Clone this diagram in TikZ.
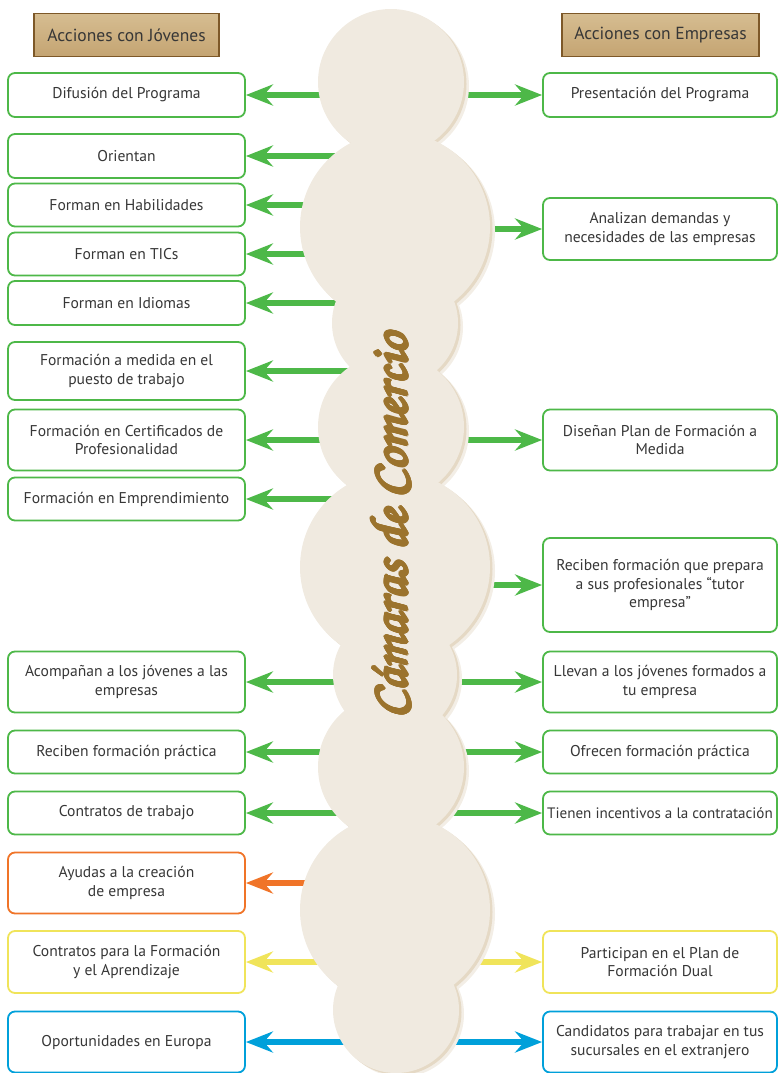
\documentclass[tikz,border=0pt]{standalone}
\usepackage[T1]{fontenc}
\usepackage{fontspec}
\setmainfont{PT Sans}
\usepackage[copies]{contour}
\contourlength{1.2pt}
\usetikzlibrary{arrows.meta}

\definecolor{verde}{RGB}{77,184,72}
\definecolor{naranja}{RGB}{240,116,40}
\definecolor{amarillo}{RGB}{240,228,90}
\definecolor{azul}{RGB}{0,160,218}
\definecolor{crema}{RGB}{240,234,224}
\definecolor{sombra}{RGB}{229,217,197}
\definecolor{sombraclara}{RGB}{243,238,230}
\definecolor{cafe}{RGB}{155,115,45}
\definecolor{tostadoA}{RGB}{214,189,145}
\definecolor{tostadoB}{RGB}{196,164,114}
\definecolor{marron}{RGB}{125,88,40}
\definecolor{texto}{RGB}{55,55,55}

\newcommand\titulofont{\fontencoding{T1}\fontfamily{pzc}\fontseries{mb}\fontshape{it}\fontsize{52}{52}\selectfont}

\tikzset{
  caja/.style={shape=rectangle, draw=#1, line width=1.8pt, rounded corners=7pt,
    fill=white, text=texto, align=center, inner sep=0pt,
    font=\fontsize{15.6}{18.3}\selectfont},
  caja/.default=verde,
  cajaj/.style={caja=#1, minimum width=237pt},
  cajaj/.default=verde,
  cajae/.style={caja=#1, minimum width=234pt},
  cajae/.default=verde,
  encabezado/.style={shape=rectangle, draw=marron, line width=1.3pt,
    top color=tostadoA, bottom color=tostadoB, text=texto,
    font=\fontsize{17.5}{20}\selectfont, minimum height=43pt},
  flecha/.style={line width=6pt, draw=#1, -{Stealth[length=27pt,width=21pt,inset=9pt]}},
  flecha/.default=verde,
}

\begin{document}
\begin{tikzpicture}[x=1pt,y=-1pt]
\useasboundingbox (0,0) rectangle (778,1073);

% encabezados
\node[encabezado, minimum width=185pt] (hj) at (126.5,35) {Acciones con Jóvenes};
\node[encabezado, minimum width=197pt] (he) at (660.5,35) {Acciones con Empresas};

% acciones con jovenes
\node[cajaj, minimum height=44pt] (j1) at (126.5,95) {Difusión del Programa};
\node[cajaj, minimum height=44pt] (j2) at (126.5,156) {Orientan};
\node[cajaj, minimum height=43pt] (j3) at (126.5,205) {Forman en Habilidades};
\node[cajaj, minimum height=43pt] (j4) at (126.5,254) {Forman en TICs};
\node[cajaj, minimum height=44pt] (j5) at (126.5,303) {Forman en Idiomas};
\node[cajaj, minimum height=58pt] (j6) at (126.5,371) {Formación a medida en el\\puesto de trabajo};
\node[cajaj, minimum height=61pt] (j7) at (126.5,440) {Formación en Certificados de\\Profesionalidad};
\node[cajaj, minimum height=43pt] (j8) at (126.5,499) {Formación en Emprendimiento};
\node[cajaj, minimum height=61pt] (j9) at (126.5,682) {Acompañan a los jóvenes a las\\empresas};
\node[cajaj, minimum height=43pt] (j10) at (126.5,752) {Reciben formación práctica};
\node[cajaj, minimum height=43pt] (j11) at (126.5,813) {Contratos de trabajo};
\node[cajaj=naranja, minimum height=61pt] (j12) at (126.5,883) {Ayudas a la creación\\de empresa};
\node[cajaj=amarillo, minimum height=62pt] (j13) at (126.5,962) {Contratos para la Formación\\y el Aprendizaje};
\node[cajaj=azul, minimum height=61pt] (j14) at (126.5,1042) {Oportunidades en Europa};

% acciones con empresas
\node[cajae, minimum height=44pt] (e1) at (660,95) {Presentación del Programa};
\node[cajae, minimum height=62pt] (e2) at (660,229) {Analizan demandas y\\necesidades de las empresas};
\node[cajae, minimum height=61pt] (e3) at (660,440) {Diseñan Plan de Formación a\\Medida};
\node[cajae, minimum height=94pt] (e4) at (660,585) {Reciben formación que prepara\\a sus profesionales “tutor\\empresa”};
\node[cajae, minimum height=61pt] (e5) at (660,682) {Llevan a los jóvenes formados a\\tu empresa};
\node[cajae, minimum height=43pt] (e6) at (660,752) {Ofrecen formación práctica};
\node[cajae, minimum height=43pt, font=\fontsize{15.1}{18.3}\selectfont] (e7) at (660,813) {Tienen incentivos a la contratación};
\node[cajae=amarillo, minimum height=62pt] (e8) at (660,962) {Participan en el Plan de\\Formación Dual};
\node[cajae=azul, minimum height=61pt] (e9) at (660,1042) {Candidatos para trabajar en tus\\sucursales en el extranjero};

% puntos del eje central
\foreach \y in {95,156,205,229,254,303,371,440,499,585,682,752,813,883,962,1042}
  \coordinate (c\y) at (395,\y);

% flechas
\path (c95) edge[flecha] (j1);
\path (c95) edge[flecha] (e1);
\path (c156) edge[flecha] (j2);
\path (c205) edge[flecha] (j3);
\path (c229) edge[flecha] (e2);
\path (c254) edge[flecha] (j4);
\path (c303) edge[flecha] (j5);
\path (c371) edge[flecha] (j6);
\path (c440) edge[flecha] (j7);
\path (c440) edge[flecha] (e3);
\path (c499) edge[flecha] (j8);
\path (c585) edge[flecha] (e4);
\path (c682) edge[flecha] (j9);
\path (c682) edge[flecha] (e5);
\path (c752) edge[flecha] (j10);
\path (c752) edge[flecha] (e6);
\path (c813) edge[flecha] (j11);
\path (c813) edge[flecha] (e7);
\path (c883) edge[flecha=naranja] (j12);
\path (c962) edge[flecha=amarillo] (j13);
\path (c962) edge[flecha=amarillo] (e8);
\path (c1042) edge[flecha=azul] (j14);
\path (c1042) edge[flecha=azul] (e9);

% camaras de comercio
\foreach \cx/\cy/\r in {391/82/73pt, 395/227/95pt, 395/323/63pt, 391/427/73pt, 395/567/95pt,
                        395/675/62pt, 391/767/73pt, 395/910/95pt, 396/1010/63pt}
  \fill[sombraclara] (\cx+5,\cy+4) circle (\r);
\foreach \cx/\cy/\r in {391/82/73pt, 395/227/95pt, 395/323/63pt, 391/427/73pt, 395/567/95pt,
                        395/675/62pt, 391/767/73pt, 395/910/95pt, 396/1010/63pt}
  \fill[sombra] (\cx+2.5,\cy+2) circle (\r);
\foreach \cx/\cy/\r in {391/82/73pt, 395/227/95pt, 395/323/63pt, 391/427/73pt, 395/567/95pt,
                        395/675/62pt, 391/767/73pt, 395/910/95pt, 396/1010/63pt}
  \fill[crema] (\cx,\cy) circle (\r);

\node[rotate=90, anchor=base, text=cafe, font=\titulofont, inner sep=0pt] (titulo) at (407,526)
  {\contour{cafe}{C\'amaras de Comercio}};
\end{tikzpicture}
\end{document}
